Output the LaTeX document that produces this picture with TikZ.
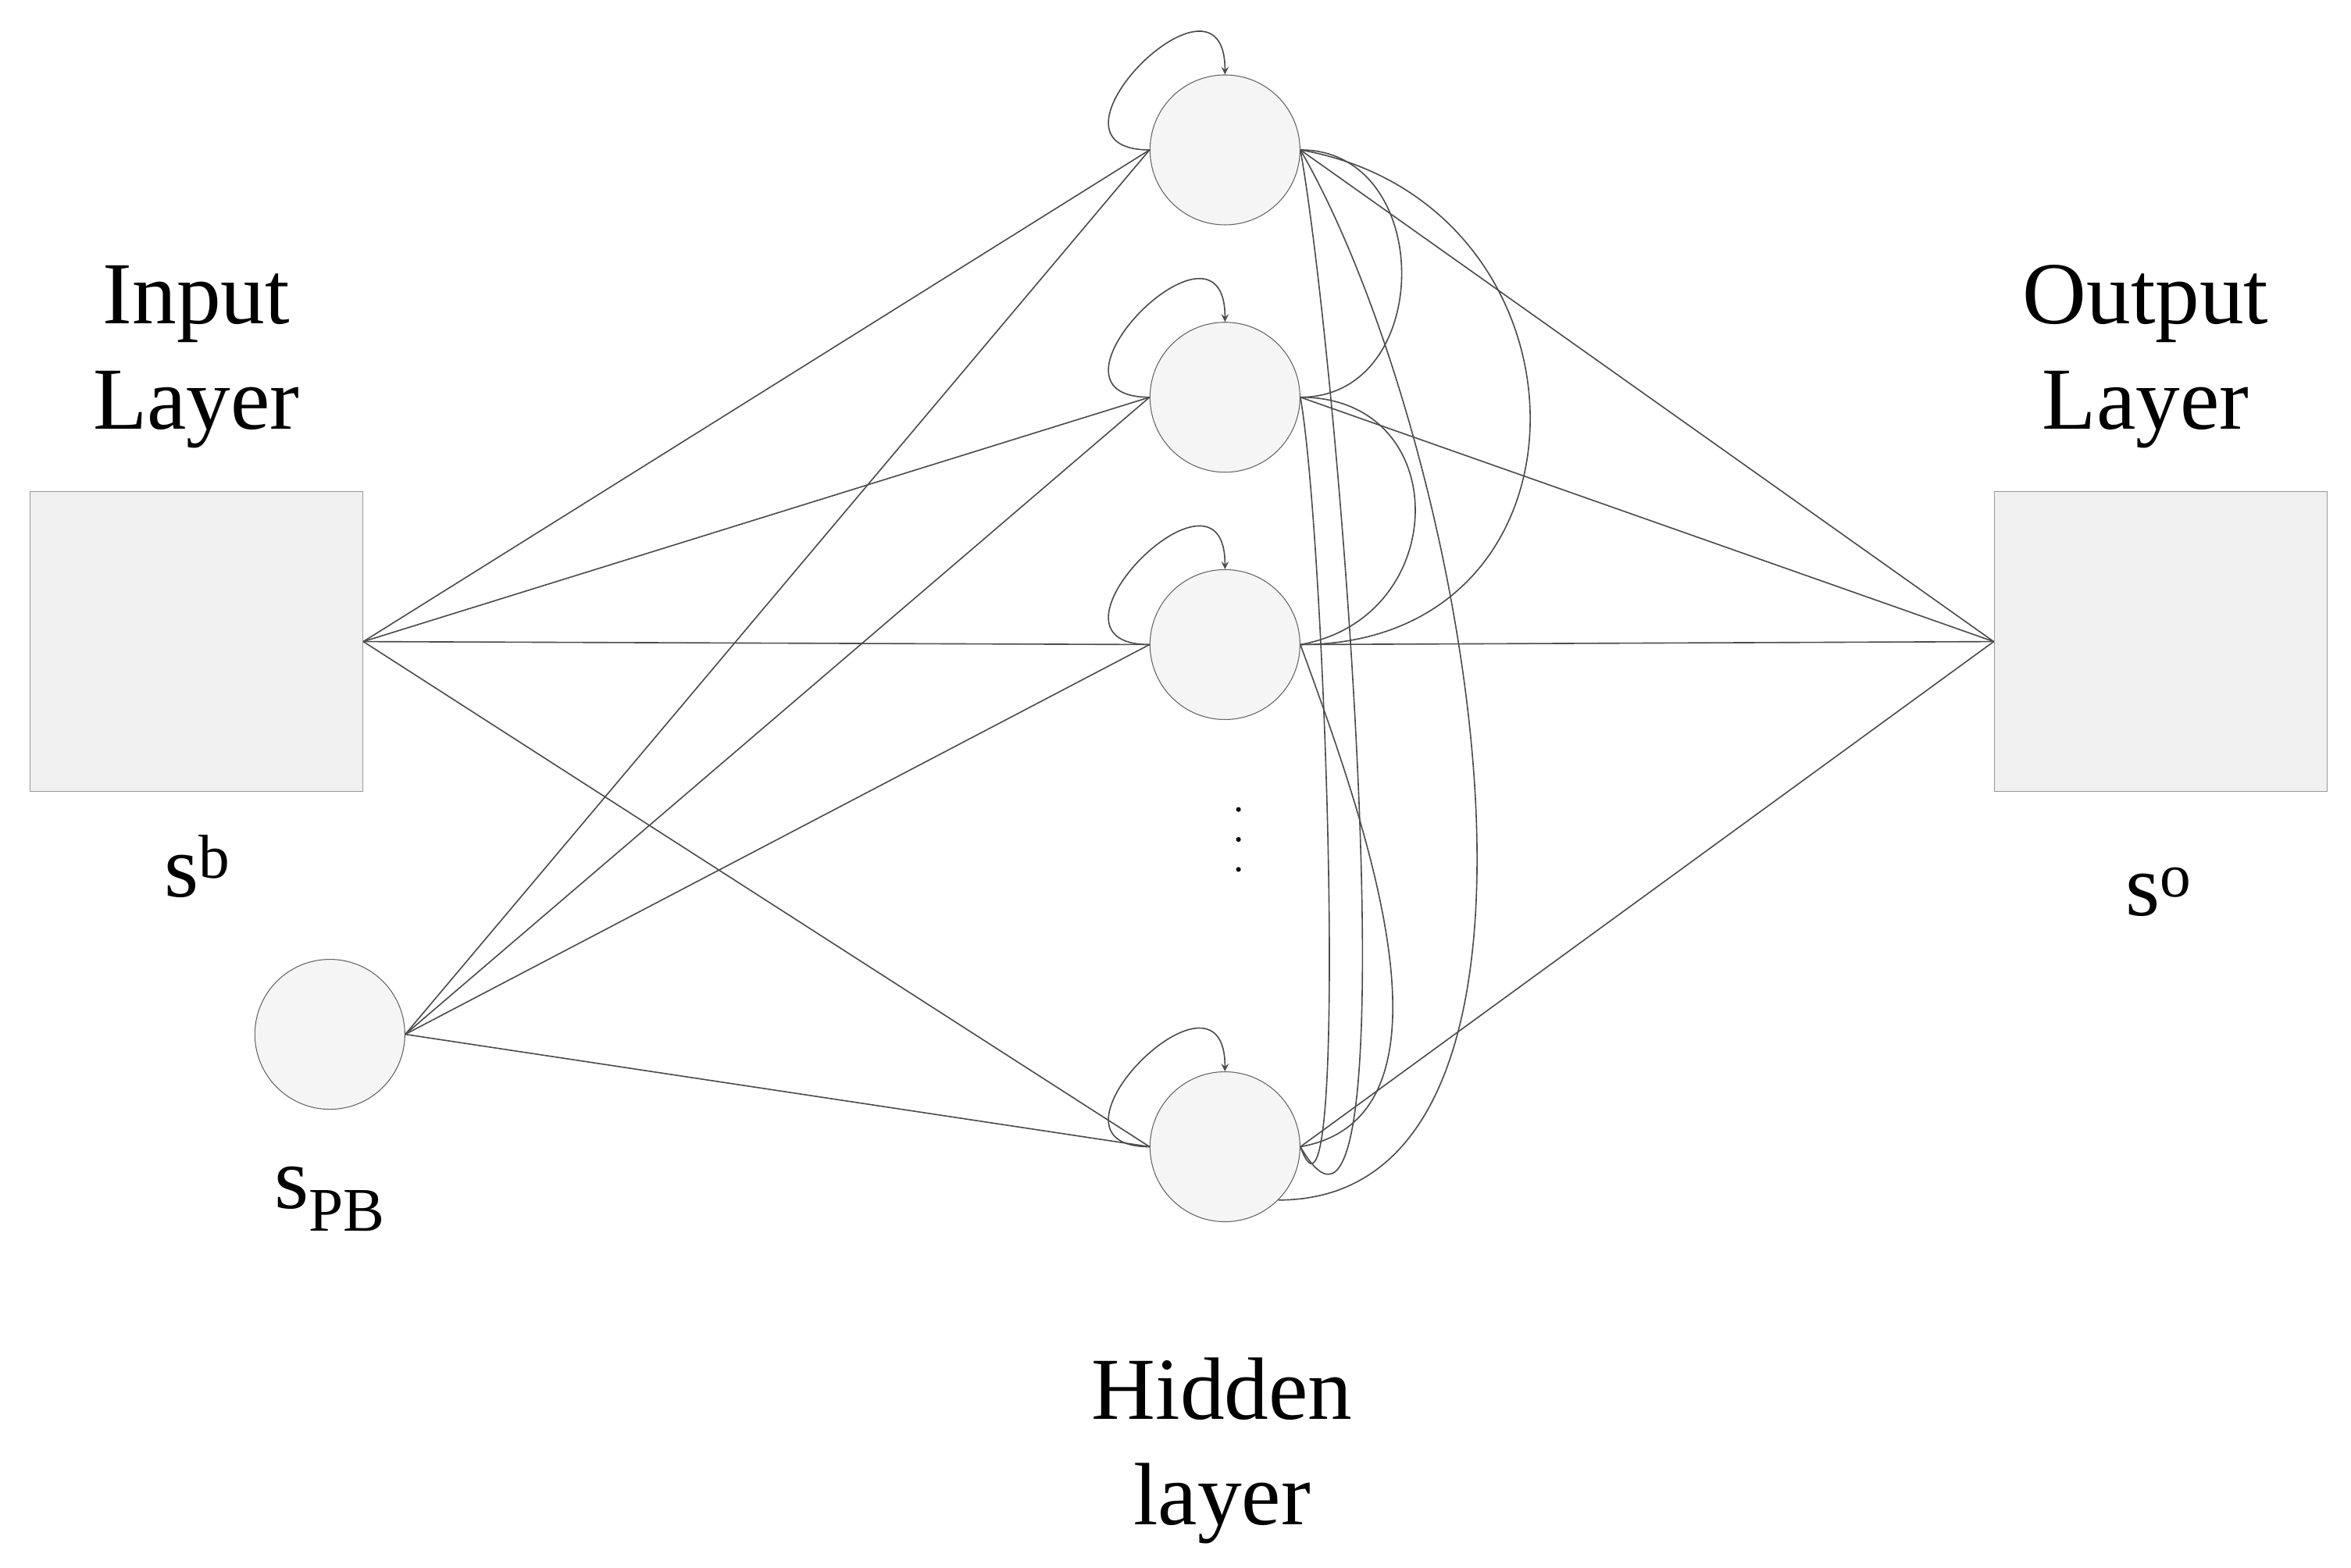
\documentclass[tikz,border=0pt]{standalone}
\usepackage{fontspec}
\setmainfont{Liberation Serif}
\usetikzlibrary{positioning}

\begin{document}
\begin{tikzpicture}[x=0.025cm,y=-0.025cm,
  layer/.style={draw=gray!80, fill=gray!12, minimum width=5.55cm, minimum height=5cm, inner sep=0pt},
  unit/.style={circle, draw=gray!80!black, fill=gray!8, minimum size=2.5cm, inner sep=0pt},
  wire/.style={draw=gray!60!black, line width=0.6pt},
  lbl/.style={font=\fontsize{42}{50}\selectfont, align=center}]

\useasboundingbox (0,0) rectangle (1568,1046);

% layers
\node[layer] (in) at (131,428) {};
\node[layer] (out) at (1441,428) {};
\node[unit] (pb) at (220,690) {};

\node[unit] (h1) at (817,100) {};
\node[unit] (h2) at (817,265) {};
\node[unit] (h3) at (817,430) {};
\node[unit] (h4) at (817,765) {};

% labels
\node[lbl] (tin) at (131,238) {Input\\Layer};
\node[lbl] (tout) at (1431,238) {Output\\Layer};
\node[lbl] (thid) at (815,968) {Hidden\\layer};
\node[lbl] (sb) at (132,578) {s\textsuperscript{b}};
\node[lbl] (so) at (1440,595) {s\textsuperscript{o}};
\node[lbl] (spb) at (220,800) {s\textsubscript{PB}};

% vertical dots
\foreach \y in {540,560,580}
  \fill[black] (826,\y) circle (1.6);

% feed-forward connections
\foreach \h in {h1,h2,h3,h4}{
  \draw[wire] (in.east) -- (\h.west);
  \draw[wire] (pb.east) -- (\h.west);
  \draw[wire] (\h.east) -- (out.west);
}

% self loops
\foreach \h in {h1,h2,h3,h4}{
  \draw[wire,->,>=stealth] (\h.west) to[out=180,in=90,looseness=3] (\h.north);
}

% recurrent connections
\draw[wire] (h1.east) to[out=0,in=0,looseness=1.4] (h2.east);
\draw[wire] (h1.east) to[out=-10,in=0,looseness=1.6] (h3.east);
\draw[wire] (h1.east) to[out=-80,in=-60,looseness=0.6] (h4.east);
\draw[wire] (h2.east) to[out=0,in=10,looseness=1.6] (h3.east);
\draw[wire] (h2.east) to[out=-80,in=-70,looseness=0.5] (h4.east);
\draw[wire] (h3.east) to[out=-70,in=10,looseness=0.9] (h4.east);
\draw[wire] (h1.east) to[out=-60,in=0,looseness=0.8] (h4.south east);

\end{tikzpicture}
\end{document}
